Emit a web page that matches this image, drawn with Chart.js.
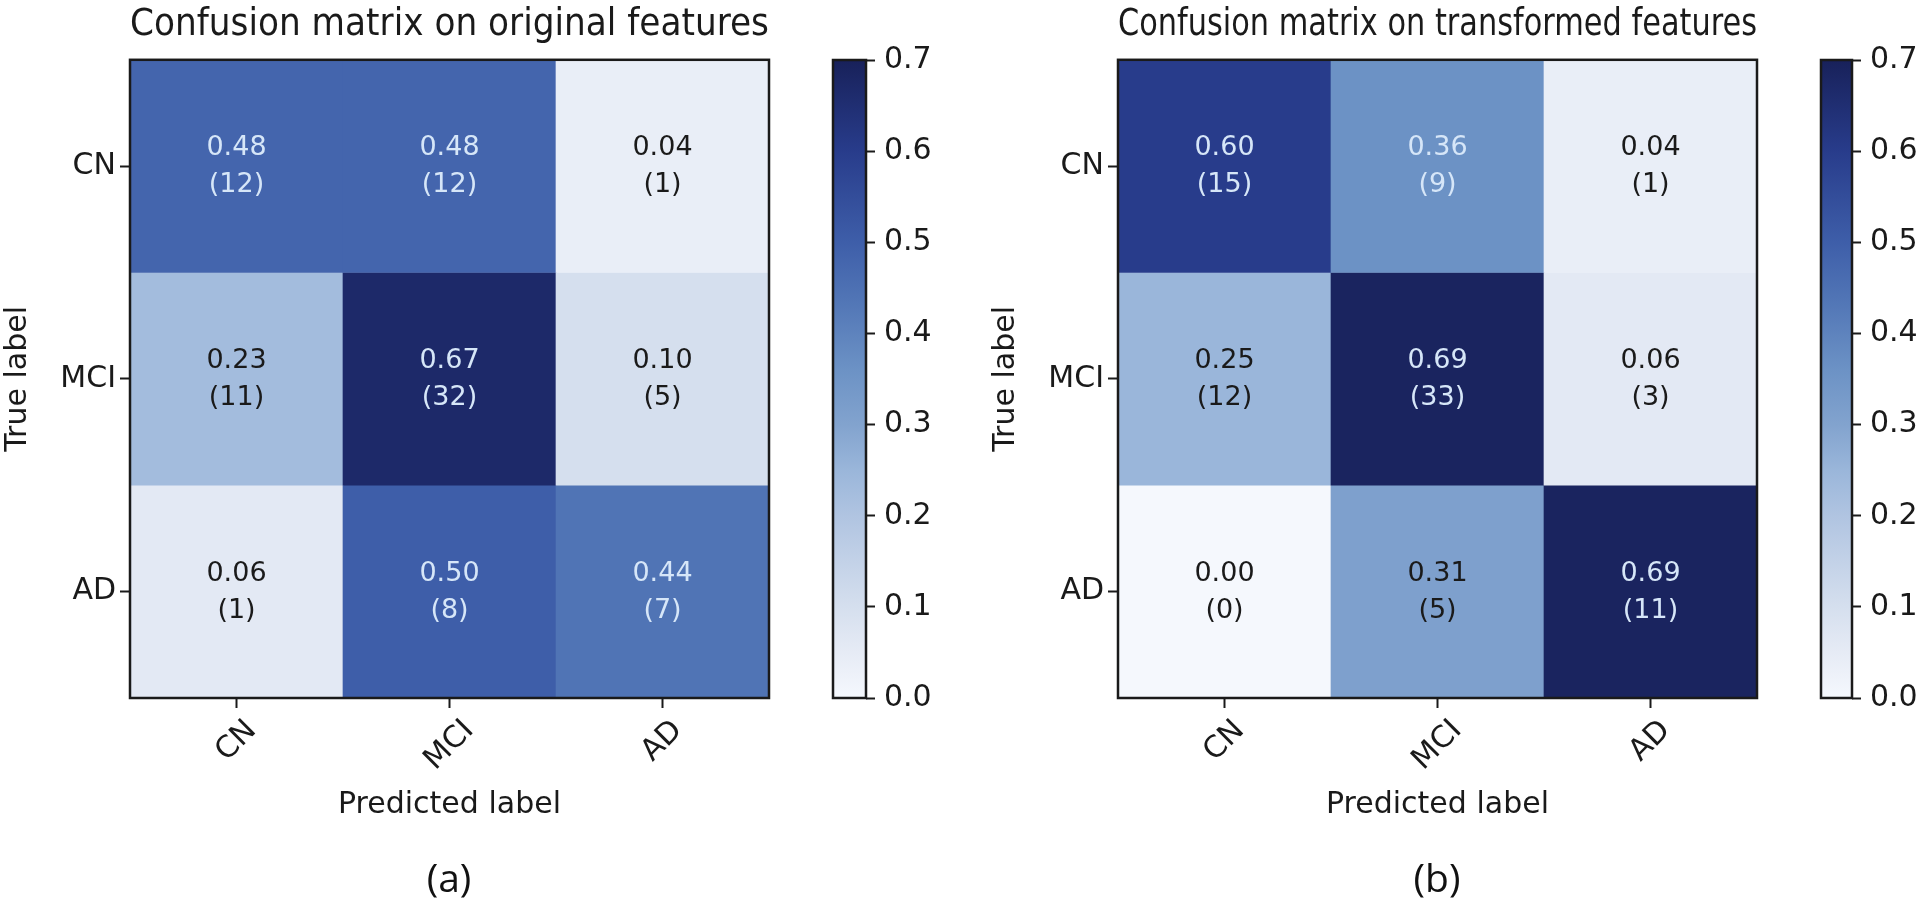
<!DOCTYPE html>
<html>
<head>
<meta charset="utf-8">
<script src="https://cdn.jsdelivr.net/npm/chart.js@4.4.0/dist/chart.umd.min.js"></script>
<style>
  body { margin: 0; background: #fff; width: 1920px; height: 916px; position: relative; overflow: hidden; }
  canvas { position: absolute; top: 0; }
  .cap { position: absolute; top: 850px; width: 200px; text-align: center; font: 39px 'Open Sans', sans-serif; color: #111; }
</style>
</head>
<body>
<canvas id="cmA" width="800" height="916" style="left:0"></canvas>
<canvas id="cbA" width="160" height="916" style="left:800px"></canvas>
<canvas id="cmB" width="800" height="916" style="left:988px"></canvas>
<canvas id="cbB" width="132" height="916" style="left:1788px"></canvas>
<div class="cap" style="left:349px">(a)</div>
<div class="cap" style="left:1337px">(b)</div>
<script>
// --- data ---
const classLabels = ['CN', 'MCI', 'AD'];
const origRates = [[0.48, 0.48, 0.04], [0.23, 0.67, 0.10], [0.06, 0.50, 0.44]];
const origCounts = [[12, 12, 1], [11, 32, 5], [1, 8, 7]];
const transRates = [[0.60, 0.36, 0.04], [0.25, 0.69, 0.06], [0.00, 0.31, 0.69]];
const transCounts = [[15, 9, 1], [12, 33, 3], [0, 5, 11]];
const cbarTicks = [0.0, 0.1, 0.2, 0.3, 0.4, 0.5, 0.6, 0.7];

const FONT = 'DejaVu Sans';
const INK = '#1a1a1a';

// colour ramp picked off the colour bar: [value, r, g, b]
const rampStops = [
  [0.00, 245, 248, 253],
  [0.05, 230, 235, 245],
  [0.10, 213, 223, 238],
  [0.20, 176, 196, 225],
  [0.25, 154, 182, 218],
  [0.30, 130, 163, 206],
  [0.36, 108, 146, 197],
  [0.44, 80, 116, 181],
  [0.50, 62, 94, 169],
  [0.60, 40, 60, 139],
  [0.70, 24, 33, 90]
];

function cmap(v) {
  for (let i = 1; i < rampStops.length; i++) {
    const a = rampStops[i - 1], b = rampStops[i];
    if (v <= b[0]) {
      const t = (v - a[0]) / (b[0] - a[0]);
      const c = [1, 2, 3].map(k => Math.round(a[k] + (b[k] - a[k]) * t));
      return `rgb(${c[0]},${c[1]},${c[2]})`;
    }
  }
  const l = rampStops[rampStops.length - 1];
  return `rgb(${l[1]},${l[2]},${l[3]})`;
}

// frame round the plot area
const frame = {
  id: 'frame',
  afterDraw(chart) {
    const { ctx, chartArea: a } = chart;
    ctx.save();
    ctx.strokeStyle = INK;
    ctx.lineWidth = 2.5;
    ctx.strokeRect(a.left, a.top, a.right - a.left, a.bottom - a.top);
    ctx.restore();
  }
};

// "0.48" / "(12)" inside each cell
const cellText = {
  id: 'cellText',
  afterDatasetsDraw(chart) {
    const ctx = chart.ctx;
    const all = chart.data.datasets.flatMap(d => d.rates);
    const thresh = Math.max(...all) / 2;
    ctx.save();
    ctx.font = `27px ${FONT}`;
    ctx.textAlign = 'center';
    ctx.textBaseline = 'middle';
    chart.data.datasets.forEach((ds, r) => {
      chart.getDatasetMeta(r).data.forEach((bar, c) => {
        const v = ds.rates[c];
        const cy = (bar.y + bar.base) / 2;
        ctx.fillStyle = v > thresh ? '#d6e6f8' : INK;
        ctx.fillText(v.toFixed(2), bar.x, cy - 18);
        ctx.fillText('(' + ds.counts[c] + ')', bar.x, cy + 19);
      });
    });
    ctx.restore();
  }
};

// x tick labels turned 45 degrees, centred under the tick (matplotlib style)
const slantTicks = {
  id: 'slantTicks',
  afterDraw(chart) {
    const { ctx, chartArea } = chart;
    const xs = chart.scales.x;
    ctx.save();
    ctx.font = `30px ${FONT}`;
    ctx.fillStyle = INK;
    ctx.textAlign = 'center';
    ctx.textBaseline = 'middle';
    xs.ticks.forEach((t, i) => {
      const label = classLabels[i];
      const w = ctx.measureText(label).width;
      const half = (w + 22) * Math.SQRT1_2 / 2;
      ctx.save();
      ctx.translate(xs.getPixelForTick(i), chartArea.bottom + 20 + half);
      ctx.rotate(-Math.PI / 4);
      ctx.fillText(label, 0, 0);
      ctx.restore();
    });
    ctx.restore();
  }
};

const tickGrid = { drawOnChartArea: false, drawTicks: true, tickLength: 10, tickColor: INK, tickWidth: 2 };

function makeMatrix(id, title, rates, counts) {
  new Chart(document.getElementById(id), {
    type: 'bar',
    data: {
      labels: classLabels,
      datasets: rates.map((row, r) => ({
        data: row.map(() => [r, r + 1]),
        backgroundColor: row.map(cmap),
        rates: row,
        counts: counts[r],
        grouped: false,
        barPercentage: 1,
        categoryPercentage: 1,
        borderWidth: 0
      }))
    },
    options: {
      responsive: false,
      animation: false,
      devicePixelRatio: 1,
      layout: { padding: { left: 0, right: 31, top: 0, bottom: 93 } },
      plugins: {
        legend: { display: false },
        tooltip: { enabled: false },
        title: {
          display: true, text: title, fullSize: false, color: INK,
          font: { family: FONT, size: 36.5, weight: 'normal' },
          padding: { top: 4, bottom: 12 }
        }
      },
      scales: {
        x: {
          grid: Object.assign({ offset: false }, tickGrid),
          border: { display: false },
          ticks: { color: 'rgba(0,0,0,0)', maxRotation: 0, font: { family: FONT, size: 30 } },
          title: { display: true, text: 'Predicted label', color: INK, padding: 0, font: { family: FONT, size: 30 } },
          afterFit: s => { s.height = 125; }
        },
        y: {
          type: 'linear', min: 0, max: 3, reverse: true,
          afterBuildTicks: s => { s.ticks = classLabels.map((_, i) => ({ value: i + 0.5 })); },
          grid: tickGrid,
          border: { display: false },
          ticks: { callback: v => classLabels[Math.floor(v)], color: INK, padding: 4, font: { family: FONT, size: 30 } },
          title: { display: true, text: 'True label', color: INK, padding: 0, font: { family: FONT, size: 30 } },
          afterFit: s => { s.width = 130; }
        }
      }
    },
    plugins: [cellText, frame, slantTicks]
  });
}

function makeColorbar(id, axisWidth) {
  const lo = cbarTicks[0], hi = cbarTicks[cbarTicks.length - 1];
  new Chart(document.getElementById(id), {
    type: 'bar',
    data: {
      labels: [''],
      datasets: [{
        data: [[lo, hi]],
        backgroundColor: c => {
          const ch = c.chart, ys = ch.scales.y;
          if (!ch.chartArea || !ys) return cmap(hi);
          const g = ch.ctx.createLinearGradient(0, ys.getPixelForValue(lo), 0, ys.getPixelForValue(hi));
          rampStops.forEach(s => g.addColorStop((s[0] - lo) / (hi - lo), `rgb(${s[1]},${s[2]},${s[3]})`));
          return g;
        },
        barPercentage: 1,
        categoryPercentage: 1,
        borderWidth: 0
      }]
    },
    options: {
      responsive: false,
      animation: false,
      devicePixelRatio: 1,
      layout: { padding: { left: 33, right: 0, top: 60, bottom: 218 } },
      plugins: { legend: { display: false }, tooltip: { enabled: false } },
      scales: {
        x: { display: false },
        y: {
          position: 'right', min: lo, max: hi,
          afterBuildTicks: s => { s.ticks = cbarTicks.map(v => ({ value: v })); },
          grid: { drawOnChartArea: false, drawTicks: true, tickLength: 9, tickColor: INK, tickWidth: 2 },
          border: { display: false },
          ticks: { callback: v => v.toFixed(1), color: INK, padding: 9, font: { family: FONT, size: 30 } },
          afterFit: s => { s.width = axisWidth; }
        }
      }
    },
    plugins: [frame]
  });
}

makeMatrix('cmA', 'Confusion matrix on original features', origRates, origCounts);
makeColorbar('cbA', 94);
makeMatrix('cmB', 'Confusion matrix on transformed features', transRates, transCounts);
makeColorbar('cbB', 68);
</script>
</body>
</html>
